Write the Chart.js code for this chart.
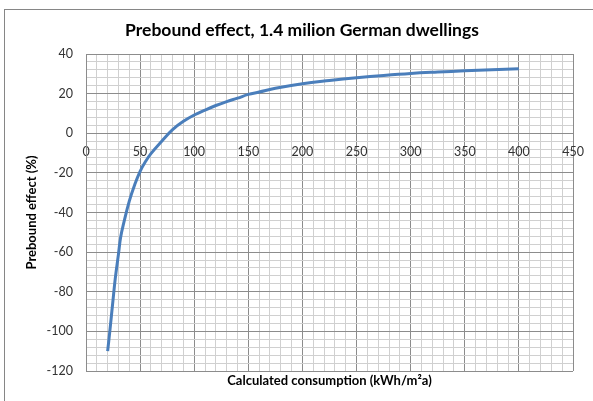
<!DOCTYPE html>
<html>
<head>
<meta charset="utf-8">
<title>Prebound effect</title>
<script src="https://cdn.jsdelivr.net/npm/chart.js@4.4.1/dist/chart.umd.min.js"></script>
<style>
  html, body { margin:0; padding:0; background:#fff; overflow:hidden; }
  #wrap { position:relative; width:593px; height:401px; }
  #frame { position:absolute; left:4px; top:9px; width:700px; height:500px; border:1px solid #868686; pointer-events:none; }
</style>
</head>
<body>
<div id="wrap">
  <canvas id="chart" width="593" height="401"></canvas>
  <div id="frame"></div>
</div>
<script>
// values
const consumption = [20, 22, 25, 27, 30, 32, 35, 40, 45, 50, 55, 60, 70, 80, 90, 100, 110, 120, 130, 140, 150, 160, 175, 200, 225, 250, 275, 300, 325, 350, 375, 400];
const prebound    = [-110, -100, -84, -73.5, -61, -52.5, -45, -34.3, -26, -19.2, -14.3, -10.3, -4, 1.8, 6, 9.2, 11.7, 14, 16, 17.7, 19.6, 20.8, 22.7, 25, 26.6, 28, 29.2, 30.2, 30.9, 31.5, 32, 32.5];

const xMin = 0, xMax = 450, xStep = 10, xLabelEvery = 50;
const yMin = -120, yMax = 40, yStep = 4, yLabelEvery = 20;

const FONT = 'Lato, "Open Sans", "DejaVu Sans", sans-serif';
const MAJOR = '#8c8c8c', MINOR = '#d0d0d0';

const isMult = (v, m) => Math.abs(v % m) < 1e-6;

const points = consumption.map((x, i) => ({ x: x, y: prebound[i] }));

new Chart(document.getElementById('chart').getContext('2d'), {
  type: 'line',
  data: {
    datasets: [{
      data: points,
      borderColor: '#4a7ebb',
      borderWidth: 3,
      pointRadius: 0,
      tension: 0.4,
      fill: false
    }]
  },
  options: {
    responsive: false,
    animation: false,
    events: [],
    layout: { padding: { left: 11, right: 0, top: 0, bottom: 0 } },
    plugins: {
      legend: { display: false },
      tooltip: { enabled: false },
      title: {
        display: true,
        text: 'Prebound effect, 1.4 milion German dwellings',
        color: '#000',
        font: { family: FONT, size: 17.5, weight: 'bold' },
        padding: { top: 19.5, bottom: 13.5 }
      },
      subtitle: {
        display: true,
        position: 'bottom',
        fullSize: false,
        text: 'Calculated consumption (kWh/m²a)',
        color: '#000',
        font: { family: FONT, size: 13, weight: 'bold' },
        padding: { top: 2.2, bottom: 12.2 }
      }
    },
    scales: {
      x: {
        type: 'linear',
        position: { y: 0 },
        min: xMin, max: xMax,
        grid: {
          drawTicks: false,
          color: c => (c.tick && isMult(c.tick.value, xLabelEvery)) ? MAJOR : MINOR
        },
        border: { color: MAJOR },
        ticks: {
          stepSize: xStep,
          autoSkip: false,
          maxRotation: 0,
          padding: 11,
          color: '#333',
          font: { family: FONT, size: 12.5 },
          callback: v => isMult(v, xLabelEvery) ? String(v) : ''
        },
        afterFit: s => { s.paddingRight = 20; }
      },
      y: {
        type: 'linear',
        position: 'left',
        min: yMin, max: yMax,
        grid: {
          drawTicks: false,
          color: c => (c.tick && isMult(c.tick.value, yLabelEvery)) ? MAJOR : MINOR
        },
        border: { color: MAJOR },
        ticks: {
          stepSize: yStep,
          autoSkip: false,
          padding: 13,
          color: '#333',
          font: { family: FONT, size: 12.5 },
          callback: v => isMult(v, yLabelEvery) ? String(v) : ''
        },
        title: {
          display: true,
          text: 'Prebound effect (%)',
          color: '#000',
          font: { family: FONT, size: 13, weight: 'bold' },
          padding: { top: 13.2, bottom: 0 }
        },
        afterFit: s => { s.width = 75; }
      }
    }
  }
});
</script>
</body>
</html>
